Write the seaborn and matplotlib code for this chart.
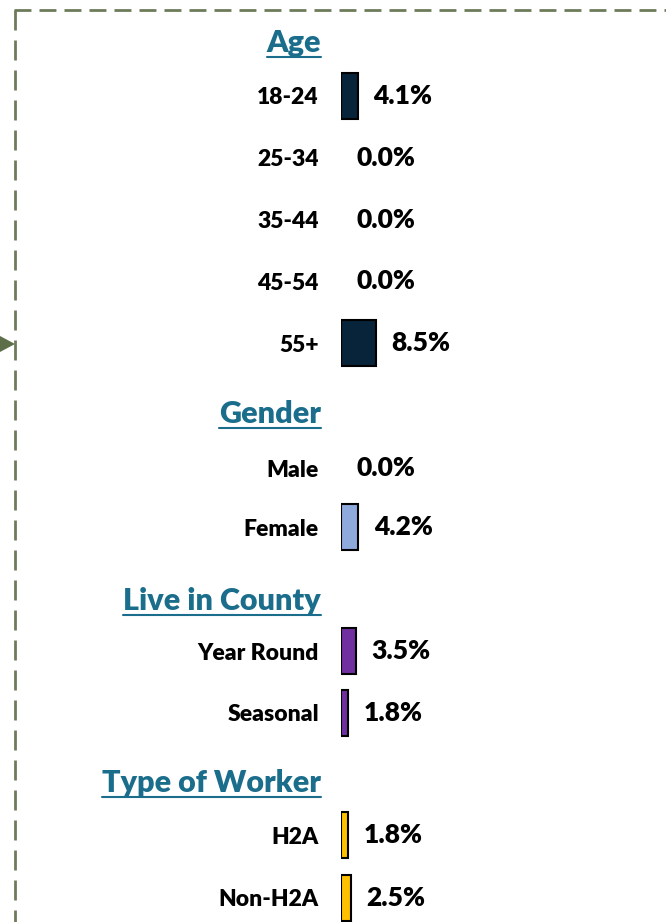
import matplotlib
matplotlib.use("Agg")
import matplotlib.pyplot as plt
import seaborn as sns
import pandas as pd
from matplotlib.lines import Line2D
from matplotlib.patches import Polygon

# ---------------------------
# Data
# ---------------------------
age_labels = ["18-24", "25-34", "35-44", "45-54", "55+"]
age_values = [4.1, 0.0, 0.0, 0.0, 8.5]

gender_labels = ["Male", "Female"]
gender_values = [0.0, 4.2]

county_labels = ["Year Round", "Seasonal"]
county_values = [3.5, 1.8]

worker_labels = ["H2A", "Non-H2A"]
worker_values = [1.8, 2.5]

# title, labels, values, colour, first row centre (px), row step (px), title baseline (px)
sections = [
    ("Age", age_labels, age_values, "#08243A", 96, 61.8, 52),
    ("Gender", gender_labels, gender_values, "#8EA9DB", 468, 59, 423),
    ("Live in County", county_labels, county_values, "#7030A0", 651, 61.5, 610),
    ("Type of Worker", worker_labels, worker_values, "#FFC000", 835, 62.5, 792),
]

W, H = 666, 922
HEAD_COLOR = "#1B6D8C"
BORDER_COLOR = "#6E7B5A"
WEIGHT = "heavy"

sns.set_theme(style="white")
plt.rcParams["font.family"] = ["Lato", "DejaVu Sans"]

fig = plt.figure(figsize=(W / 100, H / 100), dpi=100)

headers = []
for title, labels, values, color, first_y, step, head_y in sections:
    n = len(labels)
    top = first_y - step / 2
    height = n * step
    ax = fig.add_axes([341 / W, 1 - (top + height) / H, (W - 341) / W, height / H])
    df = pd.DataFrame({"label": labels, "value": values})
    sns.barplot(data=df, x="value", y="label", ax=ax, color=color,
                edgecolor="black", linewidth=1.5, width=46 / step,
                saturation=1, orient="h")
    for p in ax.patches:
        if p.get_width() == 0:
            p.set_linewidth(0)
    ax.set_xlim(0, 78)
    ax.set_ylim(n - 0.5, -0.5)
    ax.bar_label(ax.containers[0], labels=[f"{v:.1f}%" for v in values],
                 padding=11, fontsize=19, fontweight=WEIGHT, color="black")
    ax.tick_params(axis="y", length=0, pad=16, labelsize=16.5, labelcolor="black")
    for t in ax.get_yticklabels():
        t.set_fontweight(WEIGHT)
    ax.set_xticks([])
    ax.set_xlabel("")
    ax.set_ylabel("")
    sns.despine(ax=ax, left=True, bottom=True)
    ax.patch.set_alpha(0)
    h = fig.text(321 / W, 1 - head_y / H, title, ha="right", va="baseline",
                 fontsize=22, fontweight=WEIGHT, color=HEAD_COLOR)
    headers.append((h, head_y))

# underline the section titles
fig.canvas.draw()
renderer = fig.canvas.get_renderer()
for h, head_y in headers:
    bb = h.get_window_extent(renderer)
    y = 1 - (head_y + 5) / H
    fig.add_artist(Line2D([bb.x0 / W, bb.x1 / W], [y, y], transform=fig.transFigure,
                          color=HEAD_COLOR, lw=1.5))

# dashed frame and arrow on the left
fig.add_artist(Line2D([14 / W, 1.0], [1 - 10 / H, 1 - 10 / H], transform=fig.transFigure,
                      color=BORDER_COLOR, lw=2.0, linestyle=(0, (6.1, 2.9))))
fig.add_artist(Line2D([15 / W, 15 / W], [1 - 10 / H, 0], transform=fig.transFigure,
                      color=BORDER_COLOR, lw=2.0, linestyle=(0, (7.2, 3.6))))
fig.add_artist(Polygon([(0, 1 - 336 / H), (15 / W, 1 - 344 / H), (0, 1 - 352 / H)],
                       closed=True, transform=fig.transFigure,
                       facecolor="#5E6E48", edgecolor="none"))

fig.savefig("out.png", dpi=100)
